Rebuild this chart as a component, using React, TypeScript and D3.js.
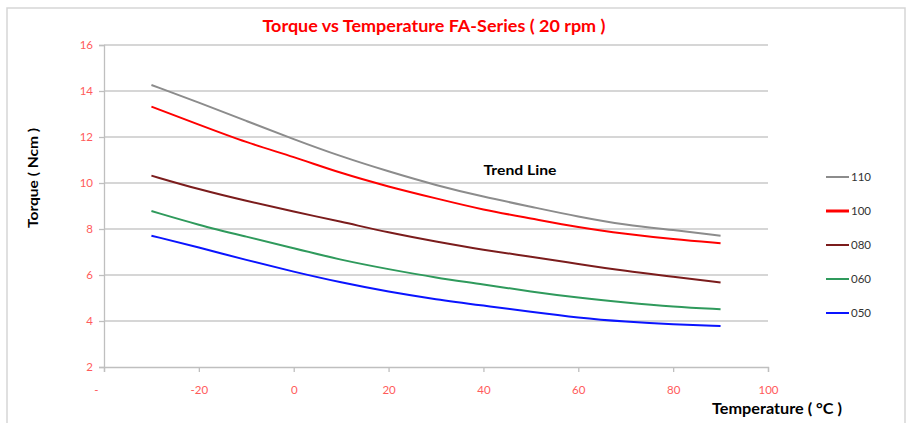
import { axisBottom, axisLeft, curveBasis, line, scaleLinear, select } from 'd3'
import { useEffect, useRef } from 'react'

const temperatures = [-30, -20, -10, 0, 10, 20, 30, 40, 50, 60, 70, 80, 90]

const torque110 = [14.26, 13.5, 12.7, 11.9, 11.15, 10.5, 9.9, 9.4, 8.97, 8.53, 8.17, 7.96, 7.71]
const torque100 = [13.32, 12.54, 11.76, 11.14, 10.42, 9.84, 9.33, 8.83, 8.46, 8.07, 7.78, 7.55, 7.38]
const torque080 = [10.32, 9.72, 9.22, 8.75, 8.32, 7.84, 7.45, 7.09, 6.8, 6.48, 6.17, 5.93, 5.67]
const torque060 = [8.78, 8.17, 7.67, 7.16, 6.65, 6.25, 5.88, 5.6, 5.27, 5.01, 4.8, 4.62, 4.51]
const torque050 = [7.71, 7.2, 6.65, 6.14, 5.67, 5.27, 4.94, 4.67, 4.4, 4.14, 3.97, 3.85, 3.78]

const seriesNames = ['110', '100', '080', '060', '050']
const seriesColors = ['#8c8c8c', '#ff0000', '#7b1c1c', '#2f9a5c', '#0a14ff']
const seriesValues = [torque110, torque100, torque080, torque060, torque050]

const xTicks = [-40, -20, 0, 20, 40, 60, 80, 100]
const xTickLabels = ['-', '-20', '0', '20', '40', '60', '80', '100']
const yTicks = [2, 4, 6, 8, 10, 12, 14, 16]

const width = 915
const height = 423
const plot = { left: 104, right: 768, top: 45, bottom: 367 }

const font = 'Lato, "Open Sans", sans-serif'

function App() {
  const xAxisRef = useRef<SVGGElement>(null)
  const yAxisRef = useRef<SVGGElement>(null)

  const xScale = scaleLinear().domain([-40, 100]).range([plot.left, plot.right])
  const yScale = scaleLinear().domain([2, 16]).range([plot.bottom, plot.top])

  useEffect(() => {
    if (xAxisRef.current) {
      const sel = select(xAxisRef.current)
      sel.call(
        axisBottom(xScale)
          .tickValues(xTicks)
          .tickSize(5)
          .tickPadding(14)
          .tickFormat((_, i) => xTickLabels[i]),
      )
      sel.select('.domain').attr('stroke', '#bfbfbf').attr('stroke-width', 1.3)
      sel.selectAll('.tick line').attr('stroke', '#bfbfbf').attr('stroke-width', 1.3)
      sel
        .selectAll('.tick text')
        .attr('fill', '#ff5b5b')
        .attr('font-size', 11.5)
        .attr('font-family', font)
      sel.select('.tick text').attr('dx', -8)
    }
    if (yAxisRef.current) {
      const sel = select(yAxisRef.current)
      sel.call(axisLeft(yScale).tickValues(yTicks).tickSize(5).tickPadding(6))
      sel.select('.domain').attr('stroke', '#bfbfbf').attr('stroke-width', 1.3)
      sel.selectAll('.tick line').attr('stroke', '#bfbfbf').attr('stroke-width', 1.3)
      sel
        .selectAll('.tick text')
        .attr('fill', '#ff5b5b')
        .attr('font-size', 11.5)
        .attr('font-family', font)
    }
  })

  const torqueLine = line<number>()
    .x((_, i) => xScale(temperatures[i]))
    .y((v) => yScale(v))
    .curve(curveBasis)

  return (
    <svg
      width={width}
      height={height}
      style={{ position: 'absolute', left: 0, top: 0, background: '#fff' }}
    >
      <rect x={7} y={8} width={898} height={430} fill="#fff" stroke="#d6d6d6" strokeWidth={1.5} />

      {yTicks
        .filter((t) => t !== 2)
        .map((tick) => (
          <line
            key={`grid-${tick}`}
            x1={plot.left}
            x2={plot.right}
            y1={yScale(tick)}
            y2={yScale(tick)}
            stroke="#c8c8c8"
            strokeWidth={1.3}
          />
        ))}

      <g ref={xAxisRef} transform={`translate(0, ${plot.bottom})`} />
      <g ref={yAxisRef} transform={`translate(${plot.left}, 0)`} />

      {seriesValues.map((values, i) => (
        <path
          key={seriesNames[i]}
          d={torqueLine(values) ?? ''}
          fill="none"
          stroke={seriesColors[i]}
          strokeWidth={2}
        />
      ))}

      <text
        x={434}
        y={32}
        textAnchor="middle"
        fill="#ff0000"
        fontWeight="bold"
        fontSize={17}
        fontFamily={font}
        textLength={343}
        lengthAdjust="spacingAndGlyphs"
      >
        Torque vs Temperature FA-Series ( 20 rpm )
      </text>

      <text
        transform="translate(38, 178) rotate(-90)"
        textAnchor="middle"
        fill="#000"
        fontWeight="bold"
        fontSize={14}
        fontFamily={font}
        textLength={100}
        lengthAdjust="spacingAndGlyphs"
      >
        Torque ( Ncm )
      </text>

      <text
        x={777}
        y={414}
        textAnchor="middle"
        fill="#000"
        fontWeight="bold"
        fontSize={15}
        fontFamily={font}
        textLength={130}
        lengthAdjust="spacingAndGlyphs"
      >
        Temperature  ( °C )
      </text>

      <text
        x={520}
        y={175}
        textAnchor="middle"
        fill="#000"
        fontWeight="bold"
        fontSize={14}
        fontFamily={font}
        textLength={73}
        lengthAdjust="spacingAndGlyphs"
      >
        Trend Line
      </text>

      {seriesNames.map((name, i) => {
        const y = 177 + i * 34
        return (
          <g key={`legend-${name}`}>
            <line x1={826} x2={849} y1={y} y2={y} stroke={seriesColors[i]} strokeWidth={i === 1 ? 3 : 2} />
            <text x={851} y={y} dy="0.35em" fill="#333" fontSize={11.5} fontFamily={font}>
              {name}
            </text>
          </g>
        )
      })}
    </svg>
  )
}

export default App
